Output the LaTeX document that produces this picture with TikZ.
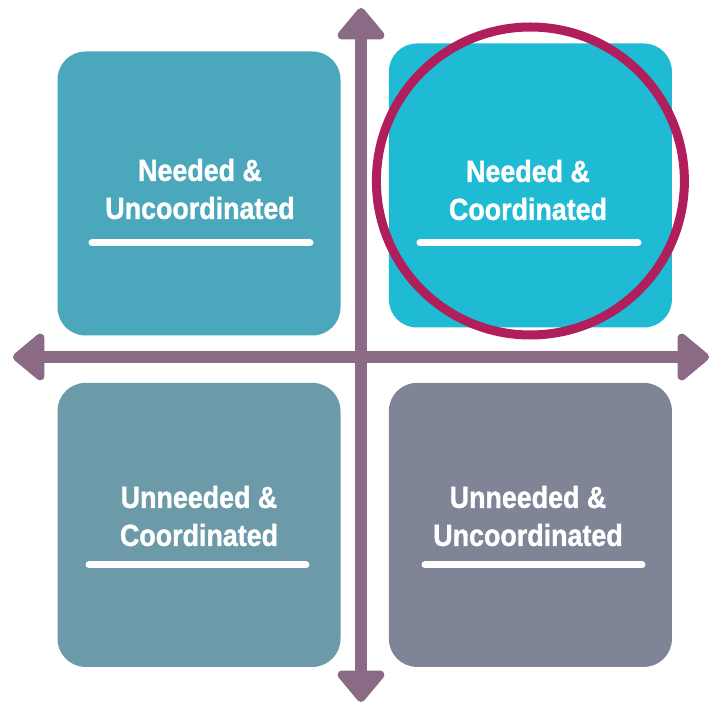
\documentclass[tikz,border=0pt]{standalone}
\usepackage{fontspec}
\setmainfont{Liberation Sans}[FakeStretch=0.88,BoldFeatures={FakeBold=1.2}]
\usepackage{tikz}
\usetikzlibrary{positioning}
\usetikzlibrary{arrows.meta}

\definecolor{tealA}{HTML}{4BA7BC}
\definecolor{tealB}{HTML}{1FBAD3}
\definecolor{slateA}{HTML}{6C9AA8}
\definecolor{slateB}{HTML}{7F8497}
\definecolor{axis}{HTML}{8B6A85}
\definecolor{ring}{HTML}{B01E5C}

\tikzset{
  quad/.style={rounded corners=28pt, minimum width=283pt, minimum height=284pt, inner sep=0pt},
  lbl/.style={text=white, font=\fontsize{30.5}{38}\selectfont\bfseries, align=center},
  rule/.style={white, line width=7pt, line cap=round},
  axisline/.style={axis, line width=12pt,
    {Triangle[width=54pt,length=34pt,round]}-{Triangle[width=54pt,length=34pt,round]}}
}

\begin{document}
\begin{tikzpicture}[x=1pt,y=1pt]
		\useasboundingbox (0,0) rectangle (716,705);
		% the four quadrants
		\node (nu) [quad, fill=tealA] at (199,511.5) {};
		\node (nc) [quad, fill=tealB, right=48pt of nu, yshift=8pt] {};
		\node (uc) [quad, fill=slateA, below=47pt of nu] {};
		\node (uu) [quad, fill=slateB, right=48pt of uc] {};
		% axes
		\coordinate (top) at (361,697);
		\coordinate (bot) at (361,3);
		\coordinate (lft) at (13,348);
		\coordinate (rgt) at (709,348);
		\draw [axisline] (bot) -- (top);
		\draw [axisline] (lft) -- (rgt);
		% labels
		\node (lnu) [lbl] at (200,516) {Needed \&\\Uncoordinated};
		\node (lnc) [lbl] at (528,515) {Needed \&\\Coordinated};
		\node (luc) [lbl] at (199,189) {Unneeded \&\\Coordinated};
		\node (luu) [lbl] at (528,189) {Unneeded \&\\Uncoordinated};
		\draw [rule] (92,462) -- (310,462);
		\draw [rule] (420,462) -- (638,462);
		\draw [rule] (89,140) -- (306,140);
		\draw [rule] (425,140) -- (642,140);
		% highlight ring
		\draw [ring, line width=9pt] (nc.center) ++(0,4.5) circle (154pt);
		\end{tikzpicture}
\end{document}
